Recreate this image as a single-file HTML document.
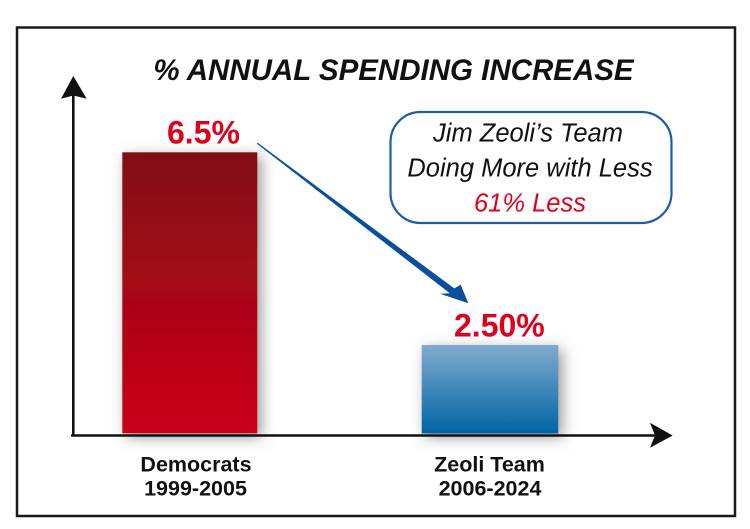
<!DOCTYPE html>
<html>
<head>
<meta charset="utf-8">
<style>
  html, body { margin:0; padding:0; background:#ffffff; }
  svg { display:block; }
  text { font-family: "Liberation Sans", Arial, sans-serif; }
</style>
</head>
<body>
<svg width="750" height="529" viewBox="0 0 750 529" xmlns="http://www.w3.org/2000/svg">
  <defs>
    <linearGradient id="redg" x1="0" y1="0" x2="0" y2="1">
      <stop offset="0" stop-color="#820d14"/>
      <stop offset="1" stop-color="#cc001a"/>
    </linearGradient>
    <linearGradient id="blueg" x1="0" y1="0" x2="0" y2="1">
      <stop offset="0" stop-color="#80abce"/>
      <stop offset="1" stop-color="#0064a5"/>
    </linearGradient>
    <filter id="sh" x="-40%" y="-40%" width="180%" height="180%">
      <feDropShadow dx="4" dy="4" stdDeviation="7" flood-color="#555" flood-opacity="0.6"/>
    </filter>
  </defs>

  <rect x="0" y="0" width="750" height="529" fill="#ffffff"/>

  <!-- outer frame -->
  <rect x="17" y="27.5" width="718" height="488.5" fill="none" stroke="#1a1a1a" stroke-width="2.5"/>

  <!-- title -->
  <text x="393.5" y="80" text-anchor="middle" font-size="29.5" font-weight="bold" font-style="italic" fill="#111">% ANNUAL SPENDING INCREASE</text>

  <!-- bars -->
  <rect x="122.3" y="152.3" width="135" height="281" fill="url(#redg)" filter="url(#sh)"/>
  <rect x="421.7" y="345" width="136.6" height="88.5" fill="url(#blueg)" filter="url(#sh)"/>

  <!-- axes -->
  <line x1="73.3" y1="94" x2="73.3" y2="436.5" stroke="#111" stroke-width="2.6"/>
  <polygon points="73.3,76 86.7,98.7 73.3,95.5 61,98.7" fill="#111"/>
  <line x1="71" y1="435.5" x2="658" y2="435.5" stroke="#111" stroke-width="2.6"/>
  <polygon points="672.7,435.5 650,447.7 655,435.5 650,422.7" fill="#111"/>

  <!-- value labels -->
  <text x="167" y="143.5" font-size="32" font-weight="bold" fill="#e0001b">6.5%</text>
  <text x="454" y="336.5" font-size="32" font-weight="bold" fill="#e0001b">2.50%</text>

  <!-- blue arrow -->
  <polygon points="256.9,143.8 449.8,293.2 440,293.8 468.3,303.3 460.7,284.8 454.3,288.4 257.7,142.8" fill="#0a4f9c"/>

  <!-- callout box -->
  <rect x="390.5" y="112" width="281" height="111" rx="30" ry="30" fill="#ffffff" stroke="#1e5da6" stroke-width="2.2"/>
  <text x="528" y="141.7" text-anchor="middle" font-size="25.5" font-style="italic" fill="#111">Jim Zeoli’s Team</text>
  <text x="530" y="176.7" text-anchor="middle" font-size="25.5" font-style="italic" fill="#111">Doing More with Less</text>
  <text x="530" y="211.7" text-anchor="middle" font-size="25.5" font-style="italic" fill="#e0001b">61% Less</text>

  <!-- category labels -->
  <text x="196" y="471.5" text-anchor="middle" font-size="21.5" font-weight="bold" fill="#111">Democrats</text>
  <text x="195.5" y="495.5" text-anchor="middle" font-size="21.5" font-weight="bold" fill="#111">1999-2005</text>
  <text x="489.5" y="471.5" text-anchor="middle" font-size="21.5" font-weight="bold" fill="#111">Zeoli Team</text>
  <text x="490" y="495.5" text-anchor="middle" font-size="21.5" font-weight="bold" fill="#111">2006-2024</text>
</svg>
</body>
</html>
